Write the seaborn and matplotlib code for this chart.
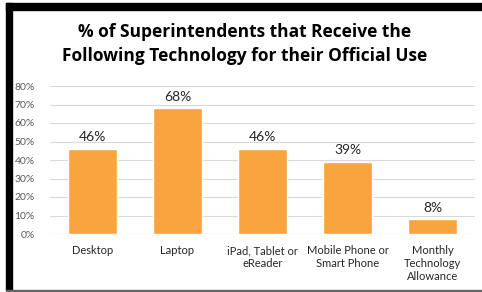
import matplotlib
matplotlib.use("Agg")
import matplotlib.pyplot as plt
import seaborn as sns
import pandas as pd
from matplotlib.patches import Rectangle
from matplotlib.ticker import PercentFormatter

# data
categories = ["Desktop", "Laptop", "iPad, Tablet or\neReader",
              "Mobile Phone or\nSmart Phone", "Monthly\nTechnology\nAllowance"]
shares = [0.46, 0.68, 0.46, 0.39, 0.08]
value_labels = ["46%", "68%", "46%", "39%", "8%"]

df = pd.DataFrame({"category": categories, "share": shares})

sns.set_theme(style="white")
plt.rcParams["font.family"] = ["Lato", "DejaVu Sans"]

fig = plt.figure(figsize=(4.82, 2.92), dpi=100)
ax = fig.add_axes([50 / 482, 58 / 292, 425 / 482, 148 / 292])

sns.barplot(data=df, x="category", y="share", color="#F9A43E",
            saturation=1, width=0.57, ax=ax)

ax.set_ylim(0, 0.8)
ax.set_yticks([i / 10 for i in range(9)])
ax.yaxis.set_major_formatter(PercentFormatter(1.0, decimals=0))
ax.grid(axis="y", color="#D9D9D9", linewidth=0.8)
ax.set_axisbelow(True)
for s in ax.spines.values():
    s.set_visible(False)
ax.axhline(0, color="#D9D9D9", linewidth=0.8, zorder=0)
ax.tick_params(axis="y", labelsize=7.5, labelcolor="#595959", length=0, pad=11)
ax.tick_params(axis="x", labelsize=8, labelcolor="#262626", length=0, pad=8)
ax.set_xlabel("")
ax.set_ylabel("")

for p, lab in zip(ax.patches, value_labels):
    ax.annotate(lab, (p.get_x() + p.get_width() / 2, p.get_height()),
                xytext=(0, 4), textcoords="offset points",
                ha="center", va="bottom", fontsize=10, color="#262626")

fig.text(0.508, 1 - 44 / 292, "% of Superintendents that Receive the\nFollowing Technology for their Official Use",
         ha="center", va="center", fontsize=12.5, fontweight="bold",
         family=["Open Sans", "DejaVu Sans"],
         color="#000000", linespacing=1.4)

# frame: thick black top/left, thin grey bottom
fig.patches.append(Rectangle((6 / 482, 2 / 292), 6 / 482, 287 / 292,
                             transform=fig.transFigure, color="black"))
fig.patches.append(Rectangle((6 / 482, 282 / 292), 476 / 482, 7 / 292,
                             transform=fig.transFigure, color="black"))
fig.patches.append(Rectangle((6 / 482, 0), 476 / 482, 2 / 292,
                             transform=fig.transFigure, color="#666666"))

fig.savefig("out.png", dpi=100, facecolor="white")
